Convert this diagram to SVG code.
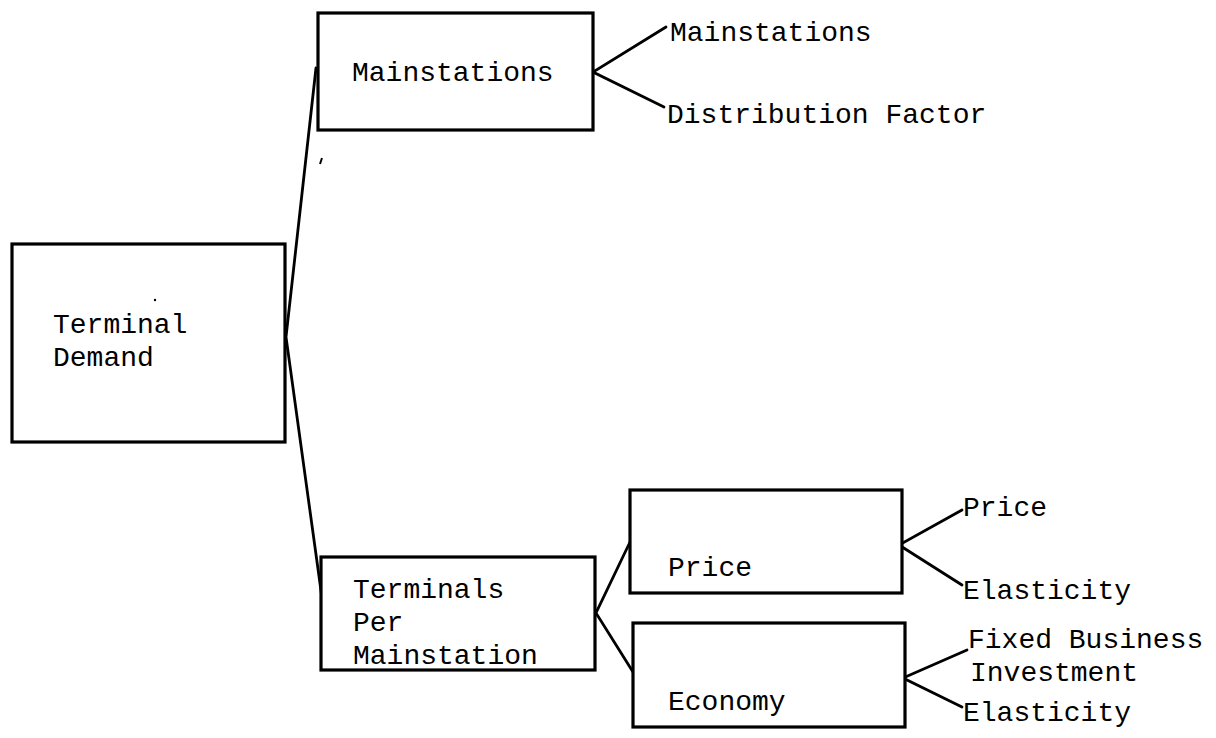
<svg xmlns="http://www.w3.org/2000/svg" width="1216" height="738" viewBox="0 0 1216 738">
<style>
.box{fill:#fff;stroke:#000;stroke-width:3.2}
.ln{stroke:#000;stroke-width:2.8;fill:none;stroke-linecap:round}
text{font-family:"Liberation Mono","Courier New",monospace;font-size:28px;fill:#000}
</style>
<rect width="1216" height="738" fill="#fff"/>
<g id="connectors">
<path class="ln" d="M316,68 L286,337 L322,598"/>
<path class="ln" d="M666,27 L593,72 L664,107"/>
<path class="ln" d="M630,542 L596,613 L633,672"/>
<path class="ln" d="M962,510 L899,545 L962,585"/>
<path class="ln" d="M967,650 L903,678 L962,707"/>
</g>
<g id="terminal-demand">
<rect class="box" x="12" y="244" width="273" height="198"/>
<text x="53" y="333">Terminal</text>
<text x="53" y="366">Demand</text>
</g>
<g id="mainstations">
<rect class="box" x="318" y="13" width="275" height="117"/>
<text x="352" y="81">Mainstations</text>
</g>
<g id="terminals-per-mainstation">
<rect class="box" x="321" y="557" width="274" height="113"/>
<text x="353" y="598">Terminals</text>
<text x="353" y="631">Per</text>
<text x="353" y="664">Mainstation</text>
</g>
<g id="price">
<rect class="box" x="630" y="490" width="272" height="103"/>
<text x="668" y="576">Price</text>
</g>
<g id="economy">
<rect class="box" x="633" y="623" width="272" height="104"/>
<text x="668" y="710">Economy</text>
</g>
<g id="leaf-mainstations"><text x="670" y="41">Mainstations</text></g>
<g id="leaf-distribution"><text x="667" y="123">Distribution Factor</text></g>
<g id="leaf-price"><text x="963" y="516">Price</text></g>
<g id="leaf-elasticity1"><text x="963" y="599">Elasticity</text></g>
<g id="leaf-fbi"><text x="968" y="648">Fixed Business</text><text x="970" y="681">Investment</text></g>
<g id="leaf-elasticity2"><text x="963" y="721">Elasticity</text></g>
<path d="M322,158 L320,164" stroke="#000" stroke-width="2"/>
<circle cx="155" cy="300" r="1.2" fill="#000"/>
</svg>
